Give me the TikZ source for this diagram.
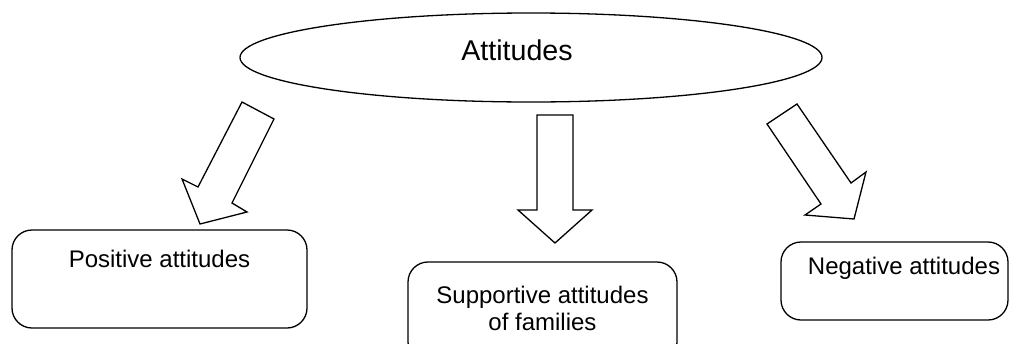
\documentclass[tikz,border=0pt]{standalone}
\usepackage{fontspec}
\setmainfont{Liberation Sans}
\usepackage{tikz}
\usetikzlibrary{shapes.geometric}
\usetikzlibrary{positioning}
\tikzset{box/.style = {draw, rounded corners=10pt, line width=0.65pt, inner sep=0pt}}
\tikzset{blockarrow/.style = {draw, line width=0.65pt, line join=miter}}
\tikzset{boxtext/.style = {font=\fontsize{12}{13.6}\selectfont, align=center, inner sep=0pt}}

\begin{document}
\begin{tikzpicture}[x=0.5pt, y=-0.5pt]
    \useasboundingbox (0, 0) rectangle (1016, 343);
    \clip (0, 0) rectangle (1016, 343);

    \node [draw, ellipse, line width=0.65pt, inner sep=0pt, minimum width=291pt, minimum height=44.5pt] (att) at (531, 57.5) {};
    \node [font=\fontsize{14.3}{17}\selectfont, inner sep=0pt] (atttext) at (517, 50.5) {Attitudes};

    \node [box, minimum width=147.5pt, minimum height=49pt] (posbox) at (159.5, 279) {};
    \node [boxtext] (postext) at (159.5, 259) {Positive attitudes};

    \node [box, minimum width=134.5pt, minimum height=50pt] (supbox) at (542.5, 312) {};
    \node [boxtext] (suptext) at (542.5, 308.5) {Supportive attitudes\\of families};

    \node [box, minimum width=113.5pt, minimum height=39pt] (negbox) at (894.5, 281) {};
    \node [boxtext] (negtext) at (904, 268.5) {Negative attitudes};

    \draw [blockarrow] (242, 102) -- (274, 119) -- (232, 203) -- (247, 212) -- (200, 224) -- (182, 179) -- (198, 187) -- cycle;
    \draw [blockarrow] (537, 115) -- (573, 115) -- (573, 210) -- (592, 210) -- (555, 243) -- (518, 210) -- (537, 210) -- cycle;
    \draw [blockarrow] (797, 104) -- (851, 183) -- (866, 172) -- (854, 219) -- (805, 215) -- (821, 204) -- (767, 124) -- cycle;
  \end{tikzpicture}
\end{document}
